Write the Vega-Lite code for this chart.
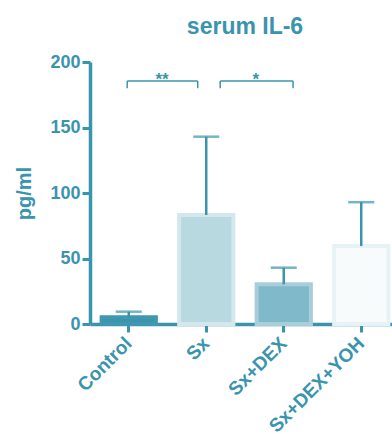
{
  "$schema": "https://vega.github.io/schema/vega-lite/v6.json",
  "autosize": "none",
  "width": 310,
  "height": 262,
  "padding": {"left": 90, "top": 62, "right": 0, "bottom": 110},
  "background": "white",
  "config": {
    "view": {"stroke": null},
    "font": "Liberation Sans",
    "axis": {"grid": false}
  },
  "title": {
    "text": "serum IL-6",
    "fontSize": 23,
    "fontWeight": "bold",
    "color": "#3a94ad",
    "font": "Liberation Sans",
    "anchor": "middle",
    "offset": 14
  },
  "datasets": {
    "groups": [
      {"group": "Control", "mean": 5.1, "upper": 9.4},
      {"group": "Sx", "mean": 83.2, "upper": 143},
      {"group": "Sx+DEX", "mean": 30.3, "upper": 43},
      {"group": "Sx+DEX+YOH", "mean": 59.5, "upper": 93}
    ],
    "brackets": [
      {"x1": 0.98, "x2": 1.89, "y": 185.5, "yb": 180, "label": "**", "xm": 1.43},
      {"x1": 2.18, "x2": 3.12, "y": 185.5, "yb": 180, "label": "*", "xm": 2.64}
    ]
  },
  "resolve": {"scale": {"x": "independent"}},
  "layer": [
    {
      "data": {"name": "groups"},
      "layer": [
        {
          "mark": {"type": "bar", "strokeWidth": 4},
          "encoding": {
            "x": {
              "field": "group", "type": "nominal", "sort": null,
              "scale": {"paddingInner": 0.3, "paddingOuter": 0.15},
              "axis": {
                "title": null, "labelAngle": -45, "labelAlign": "right", "labelBaseline": "middle",
                "labelFontSize": 19, "labelFontWeight": "bold", "labelColor": "#3a94ad",
                "domainColor": "#3a94ad", "domainWidth": 3.5, "tickColor": "#3a94ad", "tickWidth": 3,
                "tickSize": 8, "labelPadding": 8
              }
            },
            "y": {
              "field": "mean", "type": "quantitative",
              "scale": {"domain": [0, 200], "nice": false},
              "axis": {
                "title": "pg/ml", "values": [0, 50, 100, 150, 200],
                "titleFontSize": 20, "titleFontWeight": "bold", "titleColor": "#3a94ad", "titlePadding": 15,
                "labelFontSize": 18, "labelFontWeight": "bold", "labelColor": "#3a94ad", "labelPadding": 2,
                "domainColor": "#3a94ad", "domainWidth": 3.5, "tickColor": "#3a94ad", "tickWidth": 3, "tickSize": 8
              }
            },
            "fill": {
              "field": "group", "type": "nominal", "sort": null, "legend": null,
              "scale": {"domain": ["Control", "Sx", "Sx+DEX", "Sx+DEX+YOH"], "range": ["#3a94ad", "#b9d9e1", "#80b9c9", "#f7fbfc"]}
            },
            "stroke": {
              "field": "group", "type": "nominal", "sort": null, "legend": null,
              "scale": {"domain": ["Control", "Sx", "Sx+DEX", "Sx+DEX+YOH"], "range": ["#3f98b0", "#d3e7ed", "#a8cfd9", "#e7f2f6"]}
            }
          }
        },
        {
          "mark": {"type": "rule", "color": "#3a94ad", "strokeWidth": 2.5},
          "encoding": {
            "x": {"field": "group", "type": "nominal", "sort": null},
            "y": {"field": "mean", "type": "quantitative"},
            "y2": {"field": "upper"}
          }
        },
        {
          "mark": {"type": "tick", "color": "#3a94ad", "size": 26, "thickness": 2.5, "orient": "horizontal"},
          "encoding": {
            "x": {"field": "group", "type": "nominal", "sort": null},
            "y": {"field": "upper", "type": "quantitative"}
          }
        }
      ]
    },
    {
      "data": {"name": "brackets"},
      "layer": [
        {
          "mark": {"type": "rule", "color": "#3a94ad", "strokeWidth": 1.5},
          "encoding": {
            "x": {"field": "x1", "type": "quantitative", "scale": {"domain": [0.5, 4.5], "nice": false, "zero": false}, "axis": null},
            "x2": {"field": "x2"},
            "y": {"field": "y", "type": "quantitative"}
          }
        },
        {
          "mark": {"type": "rule", "color": "#3a94ad", "strokeWidth": 1.5},
          "encoding": {
            "x": {"field": "x1", "type": "quantitative", "scale": {"domain": [0.5, 4.5], "nice": false, "zero": false}, "axis": null},
            "y": {"field": "y", "type": "quantitative"},
            "y2": {"field": "yb"}
          }
        },
        {
          "mark": {"type": "rule", "color": "#3a94ad", "strokeWidth": 1.5},
          "encoding": {
            "x": {"field": "x2", "type": "quantitative", "scale": {"domain": [0.5, 4.5], "nice": false, "zero": false}, "axis": null},
            "y": {"field": "y", "type": "quantitative"},
            "y2": {"field": "yb"}
          }
        },
        {
          "mark": {"type": "text", "color": "#3a94ad", "fontSize": 17, "fontWeight": "bold", "baseline": "alphabetic", "dy": 4},
          "encoding": {
            "x": {"field": "xm", "type": "quantitative", "scale": {"domain": [0.5, 4.5], "nice": false, "zero": false}, "axis": null},
            "y": {"field": "y", "type": "quantitative"},
            "text": {"field": "label"}
          }
        }
      ]
    }
  ]
}
